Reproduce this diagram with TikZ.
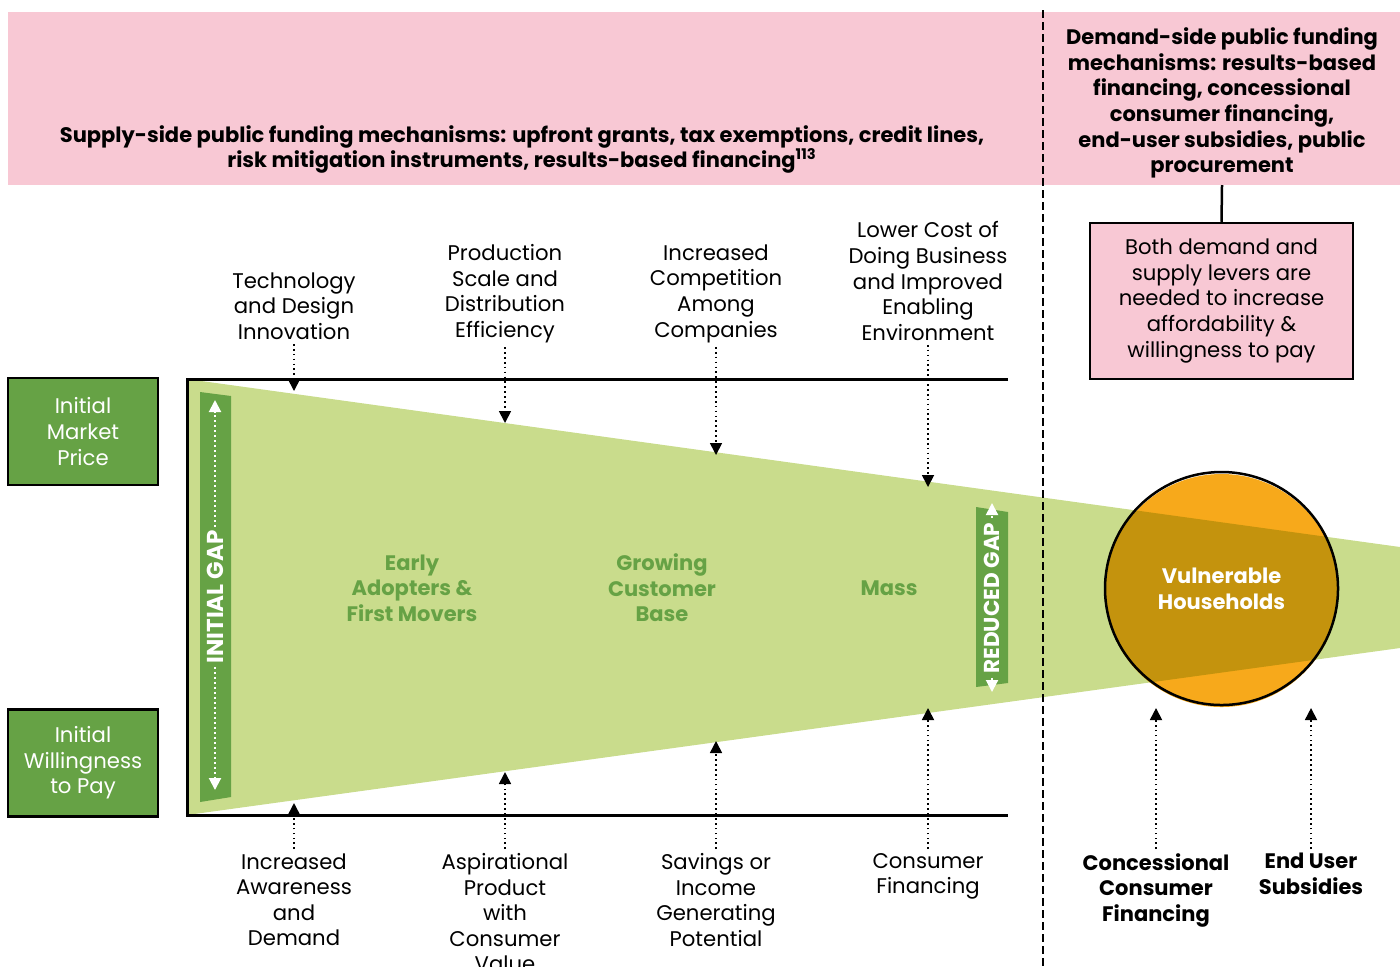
\documentclass[tikz,border=0pt]{standalone}
\usepackage{fontspec}
\setmainfont{Poppins}
\usetikzlibrary{arrows.meta}
\definecolor{bpink}{HTML}{F8C8D4}
\definecolor{dgreen}{HTML}{66A245}
\definecolor{lgreen}{HTML}{C9DC8C}
\definecolor{orng}{HTML}{F7A91B}
\definecolor{ovl}{HTML}{C4930D}
\tikzset{
  lbl/.style={align=center, font=\fontsize{10.6}{12.8}\selectfont, inner sep=2pt},
  blbl/.style={align=center, font=\fontsize{10.5}{12.8}\selectfont\bfseries, inner sep=2pt},
  glbl/.style={blbl, text=dgreen},
  gbox/.style={draw=black, line width=1.25pt, fill=dgreen, text=white, align=center,
    font=\fontsize{10.6}{12.8}\selectfont, minimum width=75pt, minimum height=53.5pt, inner sep=0pt},
  pbox/.style={draw=black, line width=1.25pt, fill=bpink, align=center,
    font=\fontsize{10.6}{12.8}\selectfont, minimum width=131.5pt, minimum height=78pt, inner sep=0pt},
  darr/.style={line width=0.85pt, dash pattern=on 0.85pt off 1.6pt, -{Triangle[width=6pt,length=6pt]}},
  warr/.style={white, line width=1pt, dash pattern=on 1pt off 1.5pt, -{Triangle[width=6pt,length=6pt]}},
  gaptxt/.style={rotate=90, text=white, font=\fontsize{11.5}{14}\selectfont\bfseries, inner sep=1.5pt},
  rgaptxt/.style={gaptxt, font=\fontsize{10.8}{14}\selectfont\bfseries, inner sep=2pt},
}
\begin{document}
\begin{tikzpicture}[x=0.5pt,y=-0.5pt]
\useasboundingbox (0,0) rectangle (1400,966);
% banner
\fill[bpink] (8,12) rectangle (1400,185);
\node[blbl] (supply) at (522,149.5) {Supply-side public funding mechanisms: upfront grants, tax exemptions, credit lines,\\risk mitigation instruments, results-based financing\textsuperscript{113}};
\node[blbl] (demand) at (1222,103) {Demand-side public funding\\mechanisms: results-based\\financing, concessional\\consumer financing,\\end-user subsidies, public\\procurement};
\node[pbox] (both) at (1221.5,301) {Both demand and\\supply levers are\\needed to increase\\affordability \&\\willingness to pay};
\coordinate (bannerbot) at (1222,185);
\draw[line width=1.25pt] (bannerbot) -- (both.north);
% funnel
\fill[lgreen] (187,379) -- (1400,547) -- (1400,648) -- (187,815) -- cycle;
\fill[dgreen] (200,392) -- (231,396) -- (231,797) -- (200,802) -- cycle;
\fill[dgreen] (976,507) -- (1008,512) -- (1008,683) -- (976,687) -- cycle;
% circle
\fill[orng] (1221.5,590.5) circle (116.5);
\begin{scope}
\clip (1221.5,590.5) circle (116.5);
\fill[ovl] (187,379) -- (1400,547) -- (1400,648) -- (187,815) -- cycle;
\end{scope}
\node[circle, draw=black, line width=1.25pt, minimum size=116.5pt, inner sep=0pt,
  text=white, align=center, font=\fontsize{10.5}{12.8}\selectfont\bfseries] (vh) at (1221.5,588.5) {Vulnerable\\Households};
% frame
\draw[line width=1.5pt] (1008,379) -- (187,379) -- (187,815) -- (1008,815);
% dashed divider
\draw[line width=1.25pt, dash pattern=on 4pt off 2pt] (1043,10) -- (1043,966);
% left boxes
\node[gbox] (imp) at (83,431.5) {Initial\\Market\\Price};
\node[gbox] (iwp) at (83,763) {Initial\\Willingness\\to Pay};
% gaps
\node[gaptxt] (igap) at (215,597) {INITIAL GAP};
\coordinate (igtop) at (215,400);
\coordinate (igbot) at (215,790);
\draw[warr] (igap.east) -- (igtop);
\draw[warr] (igap.west) -- (igbot);
\node[rgaptxt] (rgap) at (992,598) {REDUCED GAP};
\coordinate (rgtop) at (992,503);
\coordinate (rgbot) at (992,692);
\draw[warr] (rgap.east) -- (rgtop);
\draw[warr] (rgap.west) -- (rgbot);
% stage labels
\node[glbl] (early) at (412,588) {Early\\Adopters \&\\First Movers};
\node[glbl] (grow) at (662,588) {Growing\\Customer\\Base};
\node[glbl] (mass) at (889,588) {Mass};
% top labels
\node[lbl] (t1) at (294,306) {Technology\\and Design\\Innovation};
\node[lbl] (t2) at (505,293.5) {Production\\Scale and\\Distribution\\Efficiency};
\node[lbl] (t3) at (716,293.5) {Increased\\Competition\\Among\\Companies};
\node[lbl] (t4) at (928,281) {Lower Cost of\\Doing Business\\and Improved\\Enabling\\Environment};
\coordinate (p1) at (294,391);
\coordinate (p2) at (505,423);
\coordinate (p3) at (716,455);
\coordinate (p4) at (928,487);
\draw[darr] (t1.south) -- (p1);
\draw[darr] (t2.south) -- (p2);
\draw[darr] (t3.south) -- (p3);
\draw[darr] (t4.south) -- (p4);
% bottom labels
\node[lbl, anchor=north] (b1) at (294,849) {Increased\\Awareness\\and\\Demand};
\node[lbl, anchor=north] (b2) at (505,849) {Aspirational\\Product\\with\\Consumer\\Value};
\node[lbl, anchor=north] (b3) at (716,849) {Savings or\\Income\\Generating\\Potential};
\node[lbl, anchor=north] (b4) at (928,849) {Consumer\\Financing};
\node[blbl, anchor=north] (b5) at (1156,849) {Concessional\\Consumer\\Financing};
\node[blbl, anchor=north] (b6) at (1311,849) {End User\\Subsidies};
\coordinate (q1) at (294,803);
\coordinate (q2) at (505,772);
\coordinate (q3) at (716,741);
\coordinate (q4) at (928,708);
\coordinate (q5) at (1156,708);
\coordinate (q6) at (1311,708);
\draw[darr] (b1.north) -- (q1);
\draw[darr] (b2.north) -- (q2);
\draw[darr] (b3.north) -- (q3);
\draw[darr] (b4.north) -- (q4);
\draw[darr] (b5.north) -- (q5);
\draw[darr] (b6.north) -- (q6);
\end{tikzpicture}
\end{document}
